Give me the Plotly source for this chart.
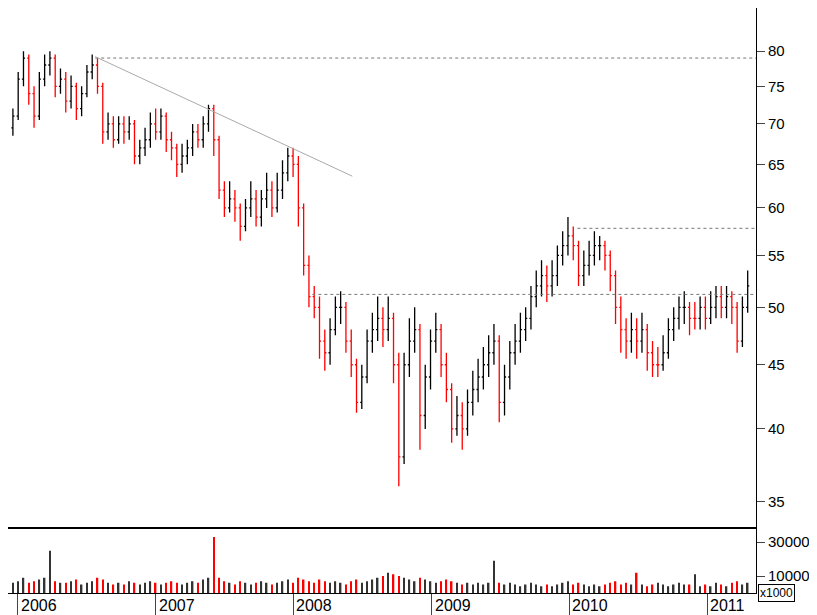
import plotly.graph_objects as go
import pandas as pd

closes = [71,76,79,74,71,76,78,79,75,76, 73,75,72,74,77,78,75,69,70,68,
          70,69,70,66,67,68,70,69,71,68, 67,65,66,67,69,68,70,72,68,62,
          60,61,60,58,60,61,59,61,62,60, 62,64,66,65,60,54,51,50,47,46,
          48,50,50,47,45,42,44,47,48,49, 48,49,45,38,45,47,48,41,44,47,
          48,45,43,40,41,40,42,43,44,45, 46,47,42,44,46,47,48,49,51,52,
          53,52,53,55,56,57,56,53,54,55, 56,56,55,53,50,48,47,48,47,48,
          46,45,45,46,48,49,50,50,49,49, 50,49,50,51,50,51,50,47,50,52]
highs = [72,77,80,79.5,75,77,79.5,80,79.5,77.5, 77,76.5,75.5,75,78,79.5,79,75.5,71.5,71,
         71,71,71,70.5,68,69.5,71.5,72,72,71.5, 69,67.5,67.5,68,70,70,71,72.5,72.5,68.5,
         63,63,62,60.5,61,63,62,62,64,63, 64,65.5,67,67,66,60.5,55,52,51,48,
         49,51,51.5,50.5,48,45.5,45,48,49.5,51, 50,51,49.5,46,46,49,50,48.5,45,48,
         49.5,48.5,46,43.5,42.5,42,43,44.5,45.5,46.5, 47.5,48.5,47.5,45,47,48.5,49.5,50,52,53.5,
         54.5,54,54.5,56,57.5,59,58,56.5,55.5,56.5, 57.5,57,56.5,55.5,53.5,51,49,49.5,49,49.5,
         48.5,47,46.5,47.5,49,50,51,51.5,50.5,50.5, 51,51,51.5,52,52,52,51.5,50.5,51,53.5]
lows = [68.5,70.5,75,72.5,69.5,70.5,75,76.5,73.5,74, 71.5,72,70.5,71,73.5,76,74,67.5,68,67,
        67.5,67.5,68,65,65,66,67,68,68,66.5, 65.5,63.5,64,65,66,67,67,69,66,61,
        59,59.5,58.5,56.5,57.5,59,58,58,60,59, 59.5,61,63,63.5,58,53,50,49,45.5,44.5,
        45,47.5,48.5,46,44,41.2,41.5,43.5,46,47, 46.5,47,43.5,36,37.5,44,46,38.5,40,43,
        46,44,42,39,39.5,38.5,39.5,41,42,43, 44,45,40.5,41,43,45,46,47,48,50,
        51,50.5,51,52,54,55,54.5,52,52,53, 54,54.5,53.5,51.5,48.5,46,45.5,46,45.5,46,
        44.5,44,44,44.5,45.5,47,48,48.5,47.5,48, 48,48,48.5,49,49,49,48.5,46,46.5,49.5]
volumes = [6000,7000,9000,6000,7000,8000,9000,25000,7000,6000, 6000,7000,8000,5000,6000,7000,9000,8000,6000,5000,
           6000,5000,7000,6000,5000,6000,7000,6000,5000,6000, 7000,6000,5000,6000,7000,6000,8000,9000,33000,9000,
           7000,6000,5000,7000,6000,5000,6000,7000,6000,5000, 6000,7000,8000,6000,9000,8000,7000,6000,8000,7000,
           6000,7000,6000,5000,7000,8000,6000,7000,8000,9000, 10000,12000,11000,10000,9000,8000,7000,9000,8000,7000,
           6000,7000,8000,7000,6000,5000,6000,5000,6000,5000, 6000,19000,6000,5000,6000,5000,4000,5000,6000,5000,
           4000,5000,4000,5000,6000,7000,5000,6000,5000,4000, 5000,4000,5000,6000,7000,5000,6000,5000,12000,5000,
           4000,5000,6000,5000,4000,5000,6000,5000,5000,11000, 4000,5000,4000,6000,5000,4000,6000,7000,5000,6000]
levels = [79.0, 51.2, 57.8]
level_starts = ["2006-07-25", "2008-02-20", "2010-01-22"]
trend_dates = ["2006-07-25", "2008-06-05"]
trend_vals = [79.2, 63.6]
years = ["2006", "2007", "2008", "2009", "2010", "2011"]

dates = pd.date_range("2005-12-19", periods=len(closes), freq="14D")
opens = [69.5] + closes[:-1]
vcolors = ["#333" if c >= o else "red" for o, c in zip(opens, closes)]

fig = go.Figure()
fig.add_trace(go.Ohlc(x=dates, open=opens, high=highs, low=lows, close=closes,
                      increasing=dict(line=dict(color="black", width=1.3)),
                      decreasing=dict(line=dict(color="red", width=1.3)),
                      tickwidth=0.3, xaxis="x", yaxis="y", showlegend=False, hoverinfo="skip"))
fig.add_trace(go.Bar(x=dates, y=volumes, marker_color=vcolors, marker_line_width=0,
                     width=4*86400000, xaxis="x2", yaxis="y2", showlegend=False))
for lv, st in zip(levels, level_starts):
    fig.add_trace(go.Scatter(x=[st, "2011-05-10"], y=[lv, lv], mode="lines",
                             line=dict(color="#777", width=1, dash="dot"), showlegend=False))
fig.add_trace(go.Scatter(x=trend_dates, y=trend_vals, mode="lines",
                         line=dict(color="#aaa", width=1), showlegend=False))

xr = ["2005-12-06", "2011-05-10"]
fig.update_layout(
    width=817, height=615, margin=dict(l=0, r=69, t=0, b=30),
    plot_bgcolor="white", paper_bgcolor="white",
    font=dict(family="Liberation Sans", size=15, color="black"),
    xaxis=dict(range=xr, domain=[0, 1], anchor="y", showticklabels=False, showgrid=False,
               rangeslider=dict(visible=False), showline=True, mirror=True, linecolor="black", ticks=""),
    yaxis=dict(type="log", domain=[0.113, 1], range=[1.524, 1.9375], side="right",
               tickvals=[35,40,45,50,55,60,65,70,75,80], showgrid=False, ticks="outside",
               ticklen=8, showline=True, mirror=True, linecolor="black", zeroline=False),
    xaxis2=dict(range=xr, domain=[0, 1], anchor="y2", showgrid=False, showticklabels=False,
                tickvals=[f"{y}-01-01" for y in years], ticks="outside", ticklen=28,
                showline=True, mirror=True, linecolor="black"),
    yaxis2=dict(domain=[0, 0.11], range=[0, 38000], side="right", tickvals=[10000, 30000],
                ticktext=["10000", "30000"], showgrid=False, ticks="outside", ticklen=8,
                showline=True, mirror=True, linecolor="black", zeroline=False),
)
for y in years:
    fig.add_annotation(x=f"{y}-01-01", y=-0.004, xref="x2", yref="paper", text=y,
                       showarrow=False, xanchor="left", yanchor="top", xshift=1, font=dict(size=16))
fig.add_annotation(x=1.0, y=0.0, xref="paper", yref="paper", text="x1000", showarrow=False,
                   xanchor="left", yanchor="middle", xshift=2, bordercolor="black", borderwidth=1,
                   borderpad=1, bgcolor="white", font=dict(size=12))
fig.write_html("out.html")
